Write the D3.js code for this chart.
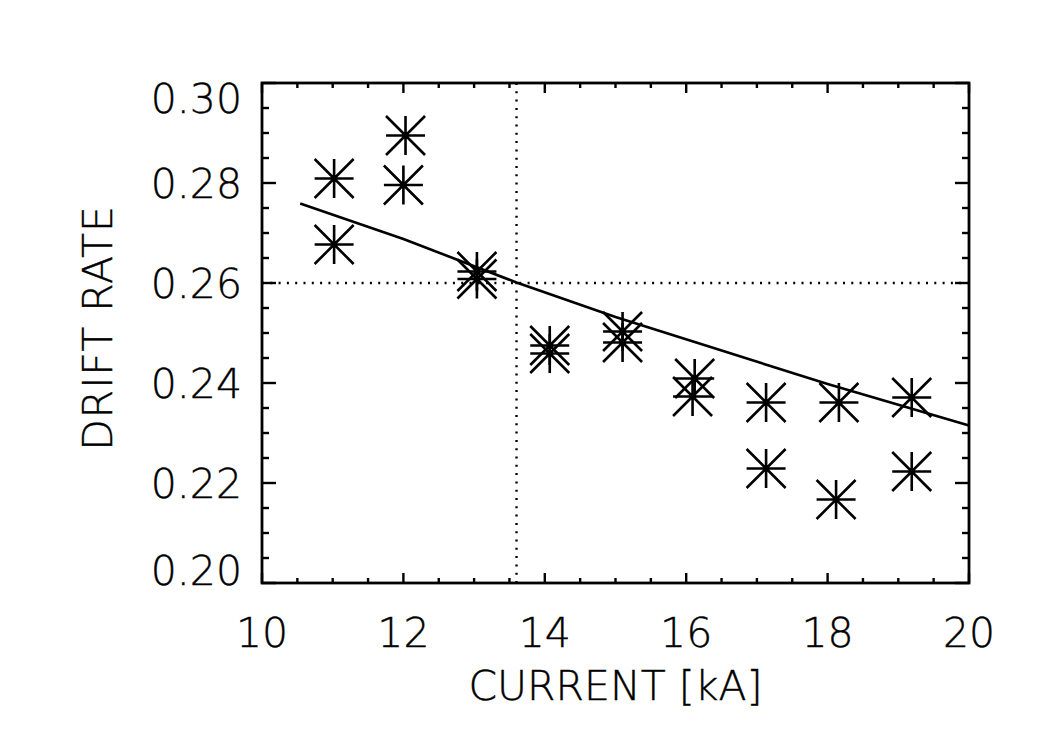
<!DOCTYPE html>
<html>
    <head>
        <title>Drift rate vs current</title>
        <script src="https://d3js.org/d3.v7.min.js"></script>
        <style>
            body { margin: 0; background: #fff; }
            text { font-family: "DejaVu Sans", sans-serif; font-weight: 200; fill: #000; stroke: #000; stroke-width: 0.4; }
        </style>
    </head>
    <body>
        <svg width="1050" height="750" id="mainSvg"></svg>
        <script>
            // measured points (current in kA, drift rate)
            const currents = [11.02, 11.02, 12.03, 12.0, 13.04, 13.04, 14.07, 14.07, 15.1, 15.1,
                              16.12, 16.09, 17.13, 17.13, 18.16, 18.12, 19.19, 19.19]
            const driftRates = [0.2809, 0.2677, 0.2895, 0.2796, 0.2623, 0.2608, 0.2475, 0.2459, 0.2503, 0.2481,
                                0.2409, 0.2373, 0.2361, 0.2229, 0.2361, 0.2167, 0.2371, 0.2223]

            // fitted curve
            const fitX = [10.54, 12.0, 13.6, 15.0, 18.0, 20.0]
            const fitY = [0.2759, 0.2688, 0.2601, 0.2532, 0.2398, 0.2315]

            // reference lines
            const refCurrent = 13.6
            const refRate = 0.26

            const xTicks = [10, 12, 14, 16, 18, 20]
            const yTicks = [0.20, 0.22, 0.24, 0.26, 0.28, 0.30]

            const svg = d3.select("#mainSvg")
            const margin = {top: 83, right: 81, bottom: 167, left: 262}
            const width = 1050 - margin.left - margin.right
            const height = 750 - margin.top - margin.bottom

            const g = svg.append("g")
                .attr("transform", `translate(${margin.left}, ${margin.top})`)

            const x = d3.scaleLinear().domain([10, 20]).range([0, width])
            const y = d3.scaleLinear().domain([0.20, 0.30]).range([height, 0])

            // tick marks on all four sides, pointing inward (IDL style)
            const xMinor = d3.range(10, 20.001, 0.5)
            const yMinor = d3.range(0.20, 0.3001, 0.005)
            const xMaj = 10, yMaj = 14

            const ticks = g.append("g").attr("stroke", "#000").attr("stroke-width", 2.4)
            xMinor.forEach(v => {
                const len = xTicks.some(t => Math.abs(t - v) < 1e-6) ? xMaj : xMaj / 2
                ticks.append("line").attr("x1", x(v)).attr("x2", x(v)).attr("y1", height).attr("y2", height - len)
                ticks.append("line").attr("x1", x(v)).attr("x2", x(v)).attr("y1", 0).attr("y2", len)
            })
            yMinor.forEach(v => {
                const len = yTicks.some(t => Math.abs(t - v) < 1e-6) ? yMaj : yMaj / 2
                ticks.append("line").attr("y1", y(v)).attr("y2", y(v)).attr("x1", 0).attr("x2", len)
                ticks.append("line").attr("y1", y(v)).attr("y2", y(v)).attr("x1", width).attr("x2", width - len)
            })

            // frame
            g.append("rect")
                .attr("width", width).attr("height", height)
                .attr("fill", "none").attr("stroke", "#000").attr("stroke-width", 2.8)

            // tick labels
            g.selectAll(".xlab").data(xTicks).enter().append("text")
                .attr("class", "xlab")
                .attr("x", d => x(d))
                .attr("y", height + 64)
                .attr("text-anchor", "middle")
                .attr("font-size", 41)
                .text(d => d)

            g.selectAll(".ylab").data(yTicks).enter().append("text")
                .attr("class", "ylab")
                .attr("x", -20)
                .attr("y", d => {
                    if (d === 0.30) return y(d) + 30
                    if (d === 0.20) return y(d) + 2
                    return y(d) + 15
                })
                .attr("text-anchor", "end")
                .attr("font-size", 41)
                .text(d => d3.format(".2f")(d))

            // axis titles
            svg.append("text")
                .attr("x", margin.left + width / 2)
                .attr("y", 700)
                .attr("text-anchor", "middle")
                .attr("font-size", 41)
                .text("CURRENT [kA]")

            svg.append("text")
                .attr("transform", "translate(112, 328) rotate(-90)")
                .attr("text-anchor", "middle")
                .attr("font-size", 41)
                .attr("letter-spacing", 1)
                .text("DRIFT RATE")

            // dotted reference lines
            g.append("line")
                .attr("x1", 0).attr("x2", width)
                .attr("y1", y(refRate)).attr("y2", y(refRate))
                .attr("stroke", "#000").attr("stroke-width", 2.4)
                .attr("stroke-dasharray", "2,6.3")
            g.append("line")
                .attr("x1", x(refCurrent)).attr("x2", x(refCurrent))
                .attr("y1", 0).attr("y2", height)
                .attr("stroke", "#000").attr("stroke-width", 2.4)
                .attr("stroke-dasharray", "2,6.3")

            // fit curve
            const line = d3.line().x(d => x(d[0])).y(d => y(d[1]))
            g.append("path")
                .datum(d3.zip(fitX, fitY))
                .attr("d", line)
                .attr("fill", "none")
                .attr("stroke", "#000")
                .attr("stroke-width", 2.6)

            // asterisks
            const r = 19.5
            const star = `M${-r},0H${r}M0,${-r}V${r}M${-r},${-r}L${r},${r}M${-r},${r}L${r},${-r}`
            g.selectAll(".pt").data(d3.zip(currents, driftRates)).enter().append("path")
                .attr("class", "pt")
                .attr("transform", d => `translate(${x(d[0])}, ${y(d[1])})`)
                .attr("d", star)
                .attr("fill", "none")
                .attr("stroke", "#000")
                .attr("stroke-width", 2.6)
        </script>
    </body>
</html>
